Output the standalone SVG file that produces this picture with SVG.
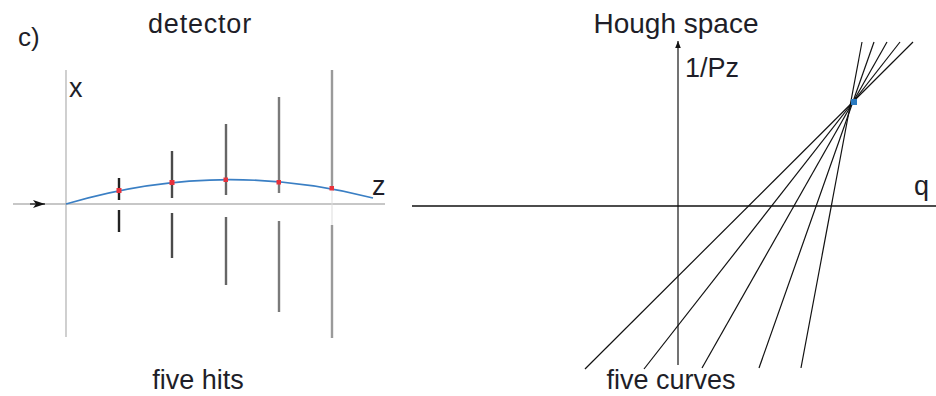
<svg xmlns="http://www.w3.org/2000/svg" width="936" height="396" viewBox="0 0 936 396">
<style>
text{font-family:"Liberation Sans",Arial,sans-serif;fill:#1e1e28}
.lbl{font-size:27px}
.det{stroke-width:2.4;fill:none}
.hit{fill:#e8323c}
.hl{stroke:#111;stroke-width:1.2;fill:none}
</style>
<defs>
<marker id="ah" viewBox="0 0 10 10" refX="10" refY="5" markerWidth="7" markerHeight="7" markerUnits="userSpaceOnUse" orient="auto">
<path d="M0,1 L10,5 L0,9 Z" fill="#111"/>
</marker>
<marker id="ah2" viewBox="0 0 12 8" refX="12" refY="4" markerWidth="12" markerHeight="8" markerUnits="userSpaceOnUse" orient="auto">
<path d="M0,0 L12,4 L0,8 L3,4 Z" fill="#111"/>
</marker>
</defs>
<rect width="936" height="396" fill="#fff"/>
<g id="left-panel">
<text x="18" y="46" style="font-size:26px">c)</text>
<text x="200" y="33" class="lbl" text-anchor="middle" letter-spacing="0.8">detector</text>
<g id="left-axes">
<line x1="66" y1="70" x2="66" y2="337" stroke="#c4c4c4" stroke-width="1.6"/>
<line x1="13" y1="204" x2="385" y2="204" stroke="#b4b4b4" stroke-width="1.6"/>
<line x1="30" y1="204" x2="45" y2="204" stroke="#111" stroke-width="1.2" marker-end="url(#ah2)"/>
<text x="69" y="97" class="lbl">x</text>
<text x="372" y="195" class="lbl">z</text>
</g>
<g id="detectors">
<path class="det" stroke="#222" d="M119,178 V200 M119,210 V232"/>
<path class="det" stroke="#4a4a4a" d="M172,151 V198 M172,213 V258"/>
<path class="det" stroke="#666" d="M226,124 V195 M226,217 V285"/>
<path class="det" stroke="#7a7a7a" d="M279,97 V193 M279,221 V312"/>
<path class="det" stroke="#9a9a9a" d="M332,70 V189 M332,225 V338"/>
<line x1="332" y1="189" x2="332" y2="225" stroke="#ddd" stroke-width="1"/>
</g>
<path id="track" d="M66,204 Q219.5,158.4 373,198" fill="none" stroke="#3a7fc4" stroke-width="1.6"/>
<g id="hits">
<rect class="hit" x="116.5" y="188" width="5" height="5"/>
<rect class="hit" x="169.5" y="180" width="5" height="5"/>
<rect class="hit" x="223.5" y="177.5" width="4.5" height="4.5"/>
<rect class="hit" x="276.5" y="180" width="4.5" height="4.5"/>
<rect class="hit" x="329.5" y="186" width="4.5" height="4.5"/>
</g>
<text x="198" y="389" class="lbl" text-anchor="middle">five hits</text>
</g>
<g id="right-panel">
<text x="676" y="33" class="lbl" text-anchor="middle" style="font-size:28px">Hough space</text>
<g id="hough-axes">
<line x1="678" y1="365" x2="678" y2="41" stroke="#444" stroke-width="1.5" marker-end="url(#ah)"/>
<line x1="412" y1="206" x2="936" y2="206" stroke="#111" stroke-width="1.5"/>
<text x="685" y="77" class="lbl">1/Pz</text>
<text x="914" y="195" class="lbl">q</text>
</g>
<g id="curves">
<line class="hl" x1="585" y1="369" x2="913" y2="42"/>
<line class="hl" x1="644" y1="369" x2="900" y2="42"/>
<line class="hl" x1="702" y1="368" x2="887" y2="42"/>
<line class="hl" x1="759" y1="368" x2="874" y2="42"/>
<line class="hl" x1="801" y1="368" x2="862" y2="42"/>
</g>
<rect id="peak" x="851" y="99" width="6" height="6" fill="#2a7ac0"/>
<text x="671" y="389" class="lbl" text-anchor="middle">five curves</text>
</g>
</svg>
